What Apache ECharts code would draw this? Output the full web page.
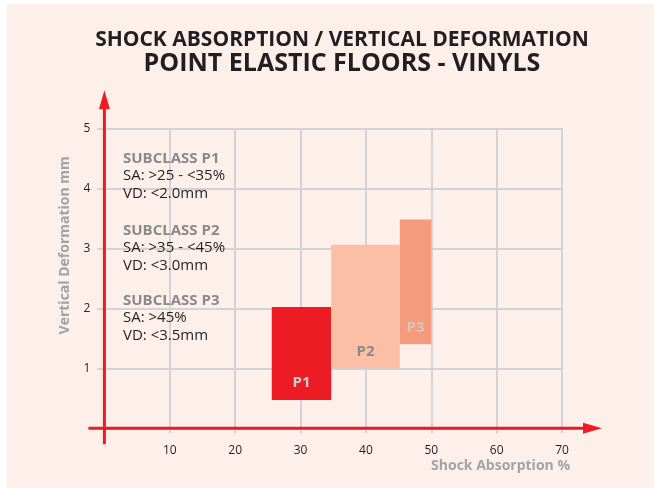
<!DOCTYPE html>
<html><head><meta charset="utf-8">
<script src="https://cdn.jsdelivr.net/npm/echarts@6/dist/echarts.min.js"></script>
<style>
html,body{margin:0;padding:0;background:#fff;}
#bg{position:absolute;left:7px;top:4px;width:647px;height:484px;background:#fdf0eb;}
#c{position:absolute;left:0;top:0;width:654px;height:488px;}
</style></head><body>
<div id="bg"></div><div id="c"></div>
<script>
// ---- data ----
const classNames = ['P1', 'P2', 'P3'];
const saMin = [25.6, 34.7, 45.2];  // shock absorption %, left edge
const saMax = [34.7, 45.2, 50];    // right edge
const vdMin = [0.47, 1.0, 1.4];    // vertical deformation mm, bottom
const vdMax = [2.02, 3.06, 3.48];  // top
const xTicks = [0, 10, 20, 30, 40, 50, 60, 70];
const yTicks = [0, 1, 2, 3, 4, 5];
const subclassTitles = ['SUBCLASS P1', 'SUBCLASS P2', 'SUBCLASS P3'];
const subclassSA = ['SA: >25 - <35%', 'SA: >35 - <45%', 'SA: >45%'];
const subclassVD = ['VD: <2.0mm', 'VD: <3.0mm', 'VD: <3.5mm'];

const fills = ['#ed1c24', '#fbbfa5', '#f59a7b'];
const labelColors = ['#cccccc', '#8a8a8a', '#d8c6be'];
const FONT = '"Open Sans", sans-serif';
const RED = '#ed1c24';

const chart = echarts.init(document.getElementById('c'), null, {renderer: 'canvas'});
const seriesData = classNames.map((n, i) => [saMin[i], saMax[i], vdMin[i], vdMax[i], i]);

const option = {
  backgroundColor: 'transparent',
  animation: false,
  title: [
    {text: 'SHOCK ABSORPTION / VERTICAL DEFORMATION', left: 337, top: 24.5, textAlign: 'center',
     textStyle: {fontFamily: FONT, fontWeight: 'bold', fontSize: 21, color: '#231f20'}},
    {text: 'POINT ELASTIC FLOORS - VINYLS', left: 337, top: 46.5, textAlign: 'center',
     textStyle: {fontFamily: FONT, fontWeight: 'bold', fontSize: 25, color: '#231f20'}}
  ],
  grid: {left: 104.4, right: 92, top: 128.3, bottom: 59.7, containLabel: false},
  xAxis: {
    type: 'value', min: xTicks[0], max: xTicks[xTicks.length - 1], interval: 10,
    name: 'Shock Absorption %', nameLocation: 'end',
    nameTextStyle: {fontFamily: FONT, fontWeight: 'bold', fontSize: 14, color: '#a3a3a3',
      align: 'right', verticalAlign: 'top', padding: [31, -8, 0, 0]},
    nameGap: 0,
    axisLine: {show: false},
    axisTick: {show: true, length: 5, inside: false, lineStyle: {color: '#d3d3d3', width: 2}},
    splitLine: {show: true, lineStyle: {color: '#d3d3d3', width: 2}},
    axisLabel: {fontFamily: FONT, fontSize: 12, color: '#231f20', margin: 16,
      formatter: v => v === 0 ? '' : String(v)}
  },
  yAxis: {
    type: 'value', min: yTicks[0], max: yTicks[yTicks.length - 1], interval: 1,
    name: 'Vertical Deformation mm', nameLocation: 'middle', nameGap: 32,
    nameTextStyle: {fontFamily: FONT, fontWeight: 'bold', fontSize: 14, color: '#a3a3a3',
      padding: [0, 0, 0, 66]},
    axisLine: {show: false},
    axisTick: {show: true, length: 7, lineStyle: {color: '#d3d3d3', width: 2}},
    splitLine: {show: true, lineStyle: {color: '#d3d3d3', width: 2}},
    axisLabel: {fontFamily: FONT, fontSize: 12, color: '#231f20', margin: 14,
      formatter: v => v === 0 ? '' : String(v)}
  },
  series: [{
    type: 'custom',
    encode: {x: [0, 1], y: [2, 3]},
    data: seriesData,
    z: 5,
    renderItem: function (params, api) {
      const idx = api.value(4);
      const tl = api.coord([api.value(0), api.value(3)]);
      const br = api.coord([api.value(1), api.value(2)]);
      return {
        type: 'group',
        children: [
          {type: 'rect', shape: {x: tl[0], y: tl[1], width: br[0] - tl[0], height: br[1] - tl[1]},
           style: {fill: fills[idx]}},
          {type: 'text', style: {text: classNames[idx], x: (tl[0] + br[0]) / 2, y: br[1] - 17,
            align: 'center', verticalAlign: 'middle', fill: labelColors[idx],
            font: 'bold 15px ' + FONT}}
        ]
      };
    }
  }]
};
chart.setOption(option);

// axis arrows and annotation texts
const o = chart.convertToPixel({gridIndex: 0}, [xTicks[0], yTicks[0]]);
const xe = chart.convertToPixel({gridIndex: 0}, [xTicks[xTicks.length - 1], yTicks[0]]);
const ye = chart.convertToPixel({gridIndex: 0}, [xTicks[0], yTicks[yTicks.length - 1]]);
const yTip = ye[1] - 38, xTip = xe[0] + 40;
const graphics = [
  {type: 'line', z: 10, shape: {x1: o[0], y1: o[1] + 16, x2: o[0], y2: yTip + 12}, style: {stroke: RED, lineWidth: 3}},
  {type: 'polygon', z: 10, shape: {points: [[o[0], yTip], [o[0] - 5.5, yTip + 19], [o[0] + 5.5, yTip + 19]]}, style: {fill: RED}},
  {type: 'line', z: 10, shape: {x1: o[0] - 16, y1: o[1], x2: xTip - 12, y2: o[1]}, style: {stroke: RED, lineWidth: 3}},
  {type: 'polygon', z: 10, shape: {points: [[xTip, o[1]], [xTip - 19, o[1] - 5.5], [xTip - 19, o[1] + 5.5]]}, style: {fill: RED}}
];
const textTops = [151, 223, 293];
subclassTitles.forEach((t, i) => {
  graphics.push({type: 'text', z: 10, style: {text: t, x: 123, y: textTops[i], fill: '#8a8a8a', font: 'bold 15px ' + FONT}});
  graphics.push({type: 'text', z: 10, style: {text: subclassSA[i], x: 123, y: textTops[i] + 17.5, fill: '#231f20', font: '15px ' + FONT}});
  graphics.push({type: 'text', z: 10, style: {text: subclassVD[i], x: 123, y: textTops[i] + 35, fill: '#231f20', font: '15px ' + FONT}});
});
chart.setOption({graphic: graphics});
</script>
</body></html>
